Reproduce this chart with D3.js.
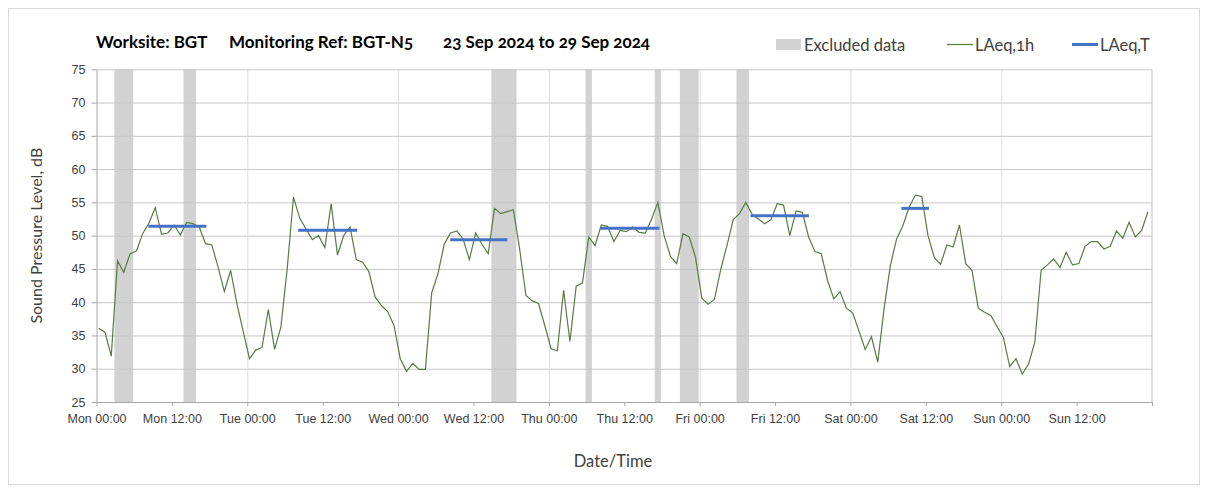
<!DOCTYPE html>
<html>
<head>
<meta charset="utf-8">
<script src="https://cdn.jsdelivr.net/npm/d3@7"></script>
<style>
  body { margin: 0; background: #fff; }
  svg { font-family: Lato, "Open Sans", sans-serif; font-variant-numeric: oldstyle-nums; font-feature-settings: "onum" 1; }
  .grid-h line { stroke: #c6c6c6; stroke-width: 1; }
  .grid-v line { stroke: #dcdcdc; stroke-width: 1; }
  .axis path, .axis line { stroke: #a6a6a6; }
  .axis text { fill: #404040; font-size: 12.5px; }
</style>
</head>
<body>
<svg id="chart"></svg>
<script>
'use strict';

var WIDTH = 1208;
var HEIGHT = 493;

// hourly LAeq,1h readings, Mon 00:00 to Sun 23:00
var laeq1h = [
  36.1, 35.5, 31.9, 46.2, 44.5, 47.3, 47.7, 50.3, 51.9, 54.2, 50.2, 50.4,
  51.6, 50.1, 52.0, 51.8, 51.3, 48.8, 48.6, 45.3, 41.6, 44.8, 39.8, 35.6,
  31.5, 32.8, 33.2, 38.9, 32.9, 36.3, 45.0, 55.8, 52.6, 51.0, 49.4, 50.0,
  48.2, 54.8, 47.1, 50.0, 51.3, 46.4, 46.0, 44.6, 40.8, 39.5, 38.6, 36.5,
  31.5, 29.6, 30.8, 29.9, 29.9, 41.4, 44.3, 48.7, 50.4, 50.7, 49.5, 46.4,
  50.4, 48.7, 47.3, 54.1, 53.3, 53.6, 53.9, 48.0, 41.0, 40.2, 39.8, 36.5,
  33.0, 32.7, 41.8, 34.1, 42.4, 42.9, 49.8, 48.5, 51.6, 51.4, 49.1, 50.8,
  50.6, 51.3, 50.5, 50.4, 52.5, 55.0, 50.0, 46.9, 45.8, 50.3, 49.8, 46.7,
  40.6, 39.7, 40.4, 44.9, 48.5, 52.4, 53.3, 55.0, 53.2, 52.5, 51.8, 52.4,
  54.8, 54.6, 50.0, 53.7, 53.5, 49.8, 47.6, 47.3, 43.3, 40.5, 41.6, 39.1,
  38.4, 35.7, 32.9, 34.8, 31.0, 39.0, 45.5, 49.5, 51.5, 54.3, 56.1, 55.9,
  50.0, 46.7, 45.7, 48.6, 48.3, 51.6, 45.8, 44.8, 39.1, 38.5, 38.0, 36.3,
  34.7, 30.3, 31.5, 29.2, 30.7, 34.0, 44.8, 45.6, 46.5, 45.2, 47.5, 45.6,
  45.8, 48.4, 49.1, 49.1, 48.0, 48.4, 50.7, 49.6, 52.0, 49.8, 50.8, 53.6
];

// excluded hours (first, last reading index)
var excludedStart = [3, 14, 63, 78, 89, 93, 102];
var excludedEnd   = [5, 15, 66, 78, 89, 95, 103];

// LAeq,T periods (hours from Mon 00:00) and level
var periodStart = [8.25, 32.1, 56.3, 80.2, 104.1, 128.1];
var periodEnd   = [17.5, 41.5, 65.4, 89.6, 113.4, 132.5];
var periodLevel = [51.4, 50.8, 49.4, 51.1, 53.0, 54.1];

var xTickLabels = ["Mon 00:00", "Mon 12:00", "Tue 00:00", "Tue 12:00", "Wed 00:00", "Wed 12:00",
  "Thu 00:00", "Thu 12:00", "Fri 00:00", "Fri 12:00", "Sat 00:00", "Sat 12:00", "Sun 00:00", "Sun 12:00"];
var yTicks = [25, 30, 35, 40, 45, 50, 55, 60, 65, 70, 75];

var POINT_OFFSET = 0.35; // readings sit a little after the hour mark

var x = d3.scaleLinear().domain([0, 168]).range([96.5, 1152]);
var y = d3.scaleLinear().domain([25, 75]).range([402, 69.3]);

var svg = d3.select("#chart").attr("width", WIDTH).attr("height", HEIGHT);

// outer frame
svg.append("rect")
.attr("x", 8.5).attr("y", 8.5)
.attr("width", 1191).attr("height", 476)
.attr("fill", "none").attr("stroke", "#d9d9d9");

// excluded bands
svg.append("g").selectAll("rect")
.data(excludedStart)
.enter().append("rect")
.attr("x", function(d){ return x(d + POINT_OFFSET - 0.5); })
.attr("width", function(d, i){ return x(excludedEnd[i] + POINT_OFFSET + 0.5) - x(d + POINT_OFFSET - 0.5); })
.attr("y", y(75))
.attr("height", y(25) - y(75))
.attr("fill", "#d2d2d2");

// gridlines
svg.append("g")
.attr("class", "grid-h")
.attr("transform", "translate(" + x(0) + ",0)")
.call(d3.axisLeft(y).tickValues(yTicks.slice(1)).tickSize(-(x(168) - x(0))).tickFormat(""))
.call(function(g){ g.select(".domain").remove(); });

svg.append("g")
.attr("class", "grid-v")
.attr("transform", "translate(0," + y(25) + ")")
.call(d3.axisBottom(x).tickValues([24, 48, 72, 96, 120, 144]).tickSize(-(y(25) - y(75))).tickFormat(""))
.call(function(g){ g.select(".domain").remove(); });

// right border line
svg.append("line")
.attr("x1", x(168)).attr("x2", x(168))
.attr("y1", y(75)).attr("y2", y(25))
.attr("stroke", "#bfbfbf");

// axes
svg.append("g")
.attr("class", "axis")
.attr("transform", "translate(" + x(0) + ",0)")
.call(d3.axisLeft(y).tickValues(yTicks).tickSize(5).tickSizeOuter(0).tickPadding(6));

svg.append("g")
.attr("class", "axis")
.attr("transform", "translate(0," + y(25) + ")")
.call(d3.axisBottom(x)
  .tickValues(d3.range(0, 169, 12))
  .tickSize(4).tickSizeOuter(0).tickPadding(8)
  .tickFormat(function(d){ return xTickLabels[d / 12] || ""; }));

// LAeq,1h line
var line = d3.line()
.x(function(d, i){ return x(i + POINT_OFFSET); })
.y(function(d){ return y(d); });

svg.append("path")
.datum(laeq1h)
.attr("d", line)
.attr("fill", "none")
.attr("stroke", "#587a45")
.attr("stroke-width", 1.2);

// LAeq,T segments
svg.append("g").selectAll("line")
.data(periodLevel)
.enter().append("line")
.attr("x1", function(d, i){ return x(periodStart[i]); })
.attr("x2", function(d, i){ return x(periodEnd[i]); })
.attr("y1", function(d){ return y(d); })
.attr("y2", function(d){ return y(d); })
.attr("stroke", "#4472c4")
.attr("stroke-width", 3);

// title
var title = svg.append("g").attr("font-weight", "bold").attr("font-size", 17).attr("fill", "#000");
title.append("text").attr("x", 96).attr("y", 48).text("Worksite: BGT");
title.append("text").attr("x", 229).attr("y", 48).text("Monitoring Ref: BGT-N5");
title.append("text").attr("x", 443).attr("y", 48).text("23 Sep 2024 to 29 Sep 2024");

// legend
var legend = svg.append("g").attr("font-size", 16.5).attr("fill", "#404040");
legend.append("rect").attr("x", 776).attr("y", 39).attr("width", 25).attr("height", 11).attr("fill", "#d2d2d2");
legend.append("text").attr("x", 804).attr("y", 50.5).text("Excluded data");
legend.append("line").attr("x1", 947).attr("x2", 973).attr("y1", 44.5).attr("y2", 44.5)
.attr("stroke", "#587a45").attr("stroke-width", 1.2);
legend.append("text").attr("x", 975).attr("y", 50.5).text("LAeq,1h");
legend.append("line").attr("x1", 1072).attr("x2", 1098).attr("y1", 44.5).attr("y2", 44.5)
.attr("stroke", "#4472c4").attr("stroke-width", 3);
legend.append("text").attr("x", 1100).attr("y", 50.5).text("LAeq,T");

// axis titles
svg.append("text")
.attr("transform", "translate(42," + ((y(25) + y(75)) / 2) + ") rotate(-90)")
.attr("text-anchor", "middle")
.attr("font-size", 16).attr("fill", "#404040")
.text("Sound Pressure Level, dB");

svg.append("text")
.attr("x", 613).attr("y", 467)
.attr("text-anchor", "middle")
.attr("font-size", 16.5).attr("fill", "#404040")
.text("Date/Time");
</script>
</body>
</html>
